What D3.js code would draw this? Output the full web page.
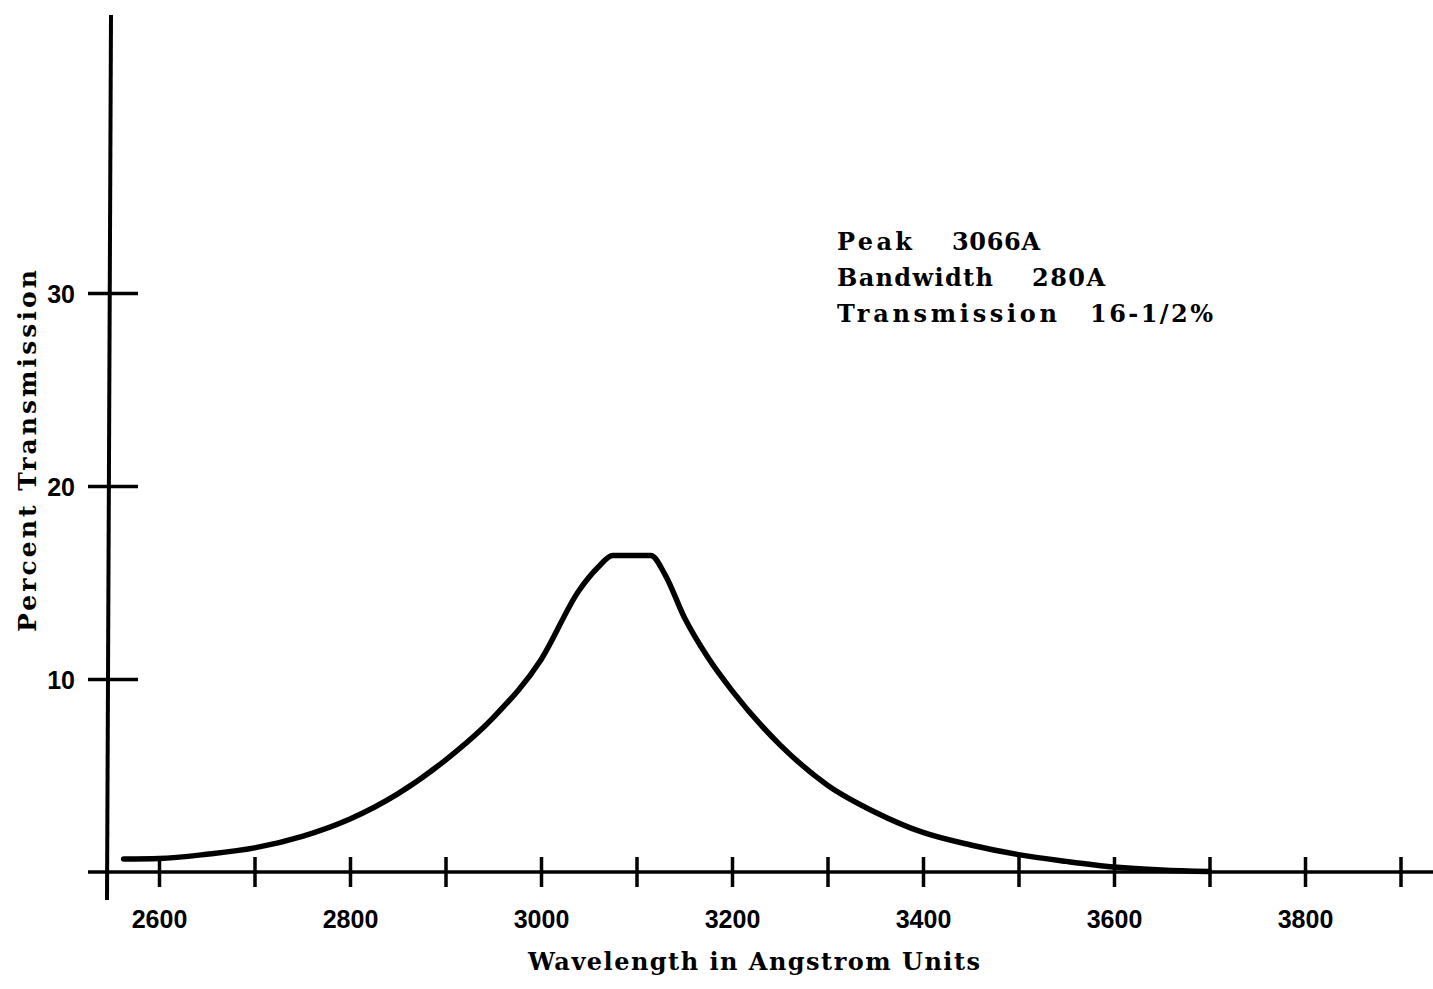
<!DOCTYPE html>
<html>
<head>
<meta charset="utf-8">
<script src="https://cdn.jsdelivr.net/npm/d3@7"></script>
<style>
  html, body { margin: 0; padding: 0; background: #fff; }
  svg { display: block; }
  .lbl { font-family: "DejaVu Serif", "Liberation Serif", serif; font-weight: bold; fill: #000; }
  .tick text { font-family: "Liberation Sans", "DejaVu Sans", sans-serif; font-weight: bold; fill: #000; }
</style>
</head>
<body>
<script>
// ---- data ----
const wavelength = [2563, 2600, 2650, 2700, 2750, 2800, 2850, 2900, 2950, 3000, 3040, 3060, 3075, 3095, 3115, 3130, 3150, 3175, 3200, 3250, 3300, 3350, 3400, 3450, 3500, 3550, 3600, 3650, 3700];
const transmission = [0.67, 0.70, 0.92, 1.25, 1.85, 2.75, 4.05, 5.8, 8.0, 11.0, 14.6, 15.8, 16.4, 16.4, 16.4, 15.4, 13.2, 11.1, 9.4, 6.6, 4.5, 3.1, 2.05, 1.4, 0.9, 0.55, 0.26, 0.1, 0.02];
const xTickValues = [2600, 2700, 2800, 2900, 3000, 3100, 3200, 3300, 3400, 3500, 3600, 3700, 3800, 3900];
const xTickLabels = ["2600", "", "2800", "", "3000", "", "3200", "", "3400", "", "3600", "", "3800", ""];
const yTickValues = [10, 20, 30];
const yTickLabels = ["10", "20", "30"];
const annotation = [["Peak", "3066A"], ["Bandwidth", "280A"], ["Transmission", "16-1/2%"]];
const xTitle = "Wavelength in Angstrom Units";
const yTitle = "Percent Transmission";

const W = 1433, H = 989;
const svg = d3.select("body").append("svg").attr("width", W).attr("height", H);

// scales: 2600 -> 159px, 3800 -> 1305px ; 0 -> 872px, 10 -> 679px
const x = d3.scaleLinear().domain([2600, 3800]).range([159, 1305]);
const y = d3.scaleLinear().domain([0, 10]).range([872, 679]);

const axisX = 109;
const axisY = y(0);

// x axis line
svg.append("line")
  .attr("x1", 88).attr("x2", W).attr("y1", axisY).attr("y2", axisY)
  .attr("stroke", "#000").attr("stroke-width", 3.5);
// y axis line (slightly slanted as in the drawing)
svg.append("line")
  .attr("x1", 111).attr("x2", 107).attr("y1", 15).attr("y2", 900)
  .attr("stroke", "#000").attr("stroke-width", 4);

// x ticks via d3 axis
const xAxis = d3.axisBottom(x).tickValues(xTickValues)
  .tickFormat((d, i) => xTickLabels[i]).tickSize(0).tickPadding(38);
const gx = svg.append("g").attr("transform", `translate(0,${axisY})`).call(xAxis);
gx.select(".domain").remove();
gx.selectAll(".tick").append("line")
  .attr("y1", -15).attr("y2", 15).attr("stroke", "#000").attr("stroke-width", 3.5);
gx.selectAll(".tick text").attr("font-size", 25).attr("dy", "0").attr("y", 56);

// y ticks via d3 axis
const yAxis = d3.axisLeft(y).tickValues(yTickValues)
  .tickFormat((d, i) => yTickLabels[i]).tickSize(0).tickPadding(34);
const gy = svg.append("g").attr("transform", `translate(${axisX},0)`).call(yAxis);
gy.select(".domain").remove();
gy.selectAll(".tick").append("line")
  .attr("x1", -21).attr("x2", 29).attr("stroke", "#000").attr("stroke-width", 3.5);
gy.selectAll(".tick text").attr("font-size", 25).attr("dy", "0.36em");

// curve
const pts = wavelength.map((w, i) => [w, transmission[i]]);
const line = d3.line().x(d => x(d[0])).y(d => y(d[1])).curve(d3.curveMonotoneX);
svg.append("path").datum(pts).attr("d", line)
  .attr("fill", "none").attr("stroke", "#000").attr("stroke-width", 5.5)
  .attr("stroke-linejoin", "round").attr("stroke-linecap", "round");

// axis titles
svg.append("text").attr("class", "lbl")
  .attr("x", 528).attr("y", 970)
  .attr("font-size", 24).attr("textLength", 452).attr("lengthAdjust", "spacing").text(xTitle);
svg.append("text").attr("class", "lbl")
  .attr("transform", "translate(36,632) rotate(-90)")
  .attr("font-size", 25).attr("font-weight", "normal")
  .attr("textLength", 362).attr("lengthAdjust", "spacing").text(yTitle);

// annotation
const ann = svg.append("g");
const rows = [
  { y: 250, w0: 75, x1: 952, w1: 88 },
  { y: 286, w0: 156, x1: 1032, w1: 73 },
  { y: 322, w0: 220, x1: 1090, w1: 123 }
];
annotation.forEach((a, i) => {
  const r = rows[i];
  ann.append("text").attr("class", "lbl").attr("x", 837).attr("y", r.y)
    .attr("font-size", 24).attr("textLength", r.w0).attr("lengthAdjust", "spacing").text(a[0]);
  ann.append("text").attr("class", "lbl").attr("x", r.x1).attr("y", r.y)
    .attr("font-size", 24).attr("textLength", r.w1).attr("lengthAdjust", "spacing").text(a[1]);
});
</script>
</body>
</html>
